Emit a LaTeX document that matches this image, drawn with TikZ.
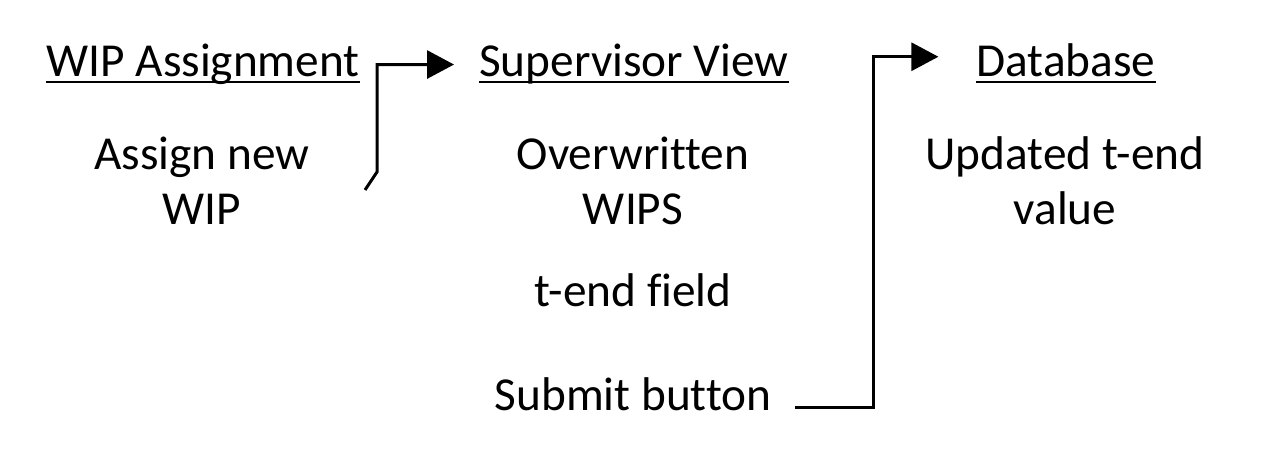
\documentclass[tikz,border=0pt]{standalone}
\usepackage{fontspec}
\setmainfont{Carlito}[Ligatures={NoCommon}]
\usepackage{tikz}
\usetikzlibrary{
	positioning,
	arrows.meta
}

\tikzset{
	label/.style={inner sep=0pt,anchor=base,align=center,font=\fontsize{47.3}{55}\selectfont},
	flow/.style={line width=3pt,-{Triangle[length=27pt,width=28pt]}},
	uline/.style={line width=2.5pt}
}

\begin{document}
\begin{tikzpicture}[x=1pt,y={(0pt,-1pt)}]
		\useasboundingbox (0,0) rectangle (1262,473);
		\draw
			node [label] (wip)    at (203,77)  {WIP Assignment}
			node [label] (assign) at (202,225) {Assign new\\WIP}
			node [label] (sup)    at (634,77)  {Supervisor View}
			node [label] (over)   at (633,225) {Overwritten\\WIPS}
			node [label] (tend)   at (633,307) {t-end field}
			node [label] (submit) at (633,410) {Submit button}
			node [label] (db)     at (1066,77) {Database}
			node [label] (upd)    at (1065,225) {Updated t-end\\value}
		;
		% underlines
		\foreach \h in {wip,sup,db}
			\draw [uline] ([yshift=-5pt]\h.base west) -- ([yshift=-5pt]\h.base east);

		\coordinate (a0) at (365,190);
		\coordinate (a1) at (377,172);
		\coordinate (s0) at (795,407);
		\coordinate (s1) at (873,407);

		\draw [flow,shorten >=25pt] (a0) -- (a1) |- (sup.west);
		\draw [flow,shorten >=38pt] (s0) -- (s1) |- ([yshift=4pt]db.west);
    \end{tikzpicture}
\end{document}
